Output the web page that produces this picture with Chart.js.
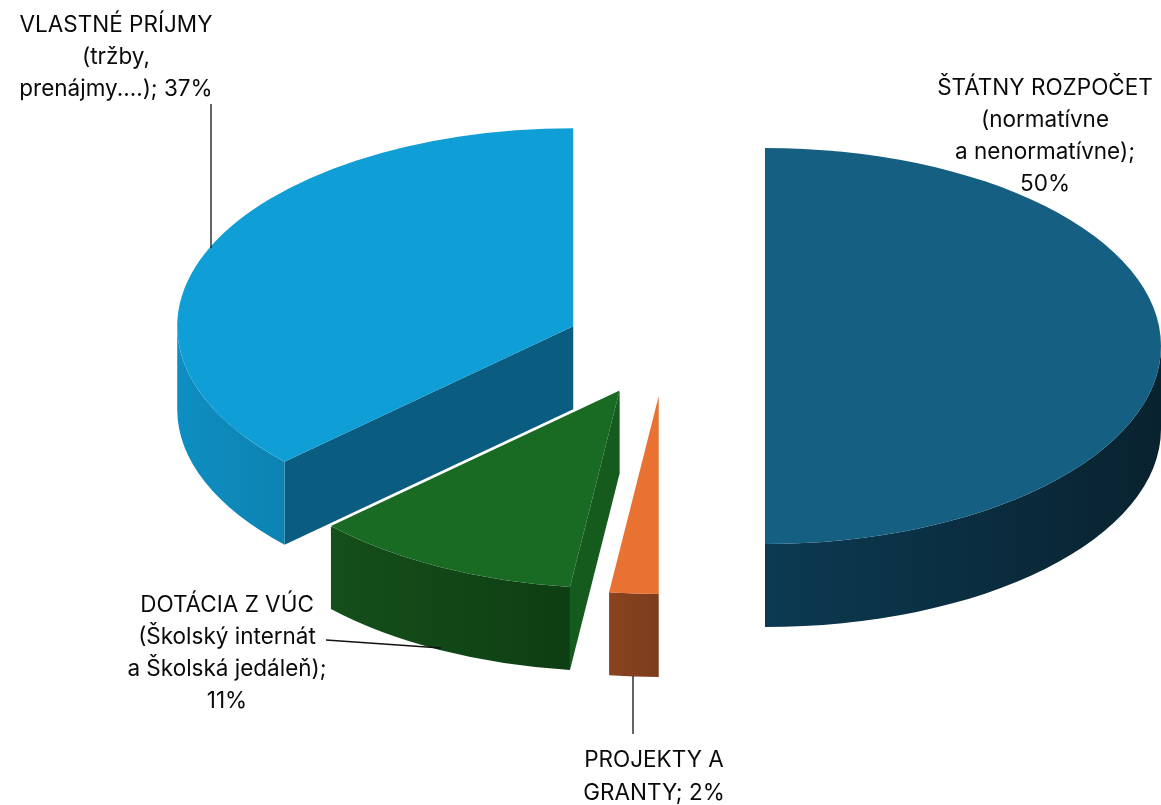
<!DOCTYPE html>
<html>
<head>
<meta charset="utf-8">
<style>html,body{margin:0;padding:0;background:#fff}canvas{display:block}</style>
<script src="https://cdn.jsdelivr.net/npm/chart.js@4"></script>
</head>
<body>
<canvas id="c" width="1161" height="805"></canvas>
<script>
const categories = ['ŠTÁTNY ROZPOČET (normatívne a nenormatívne)', 'PROJEKTY A GRANTY', 'DOTÁCIA Z VÚC (Školský internát a Školská jedáleň)', 'VLASTNÉ PRÍJMY (tržby, prenájmy....)'];
const shares = [50, 2, 11, 37];
const topColors = ['#156082', '#E97132', '#196B24', '#0F9ED5'];
const wallLeft = ['#0C3A52', '#8A431F', '#154F1A', '#0E8EC1'];
const wallRight = ['#09222F', '#7C3D1C', '#0E3E13', '#0C83B2'];
const cutColors = ['#0B3A50', '#8A431F', '#155B1E', '#0A5C80'];
const labelLines = [
  ['ŠTÁTNY ROZPOČET', '(normatívne', 'a nenormatívne);', '50%'],
  ['PROJEKTY A', 'GRANTY; 2%'],
  ['DOTÁCIA Z VÚC', '(Školský internát', 'a Školská jedáleň);', '11%'],
  ['VLASTNÉ PRÍJMY', '(tržby,', 'prenájmy....); 37%']
];

const SQUASH = 0.5, EXPLODE = 100, DEPTH = 83;
const FONT = '22.5px Inter';
const labelAnchors = [
  {x: 1045, ys: [88, 120, 152, 184]},
  {x: 654, ys: [760, 793]},
  {x: 227, ys: [605, 637, 669, 701]},
  {x: 116, ys: [25, 57, 89]}
];
const leaders = [[211, 104, 211, 248], [326, 640, 441, 648], [633, 676, 633, 734]];

const pie3d = {
  id: 'pie3d',
  beforeDatasetDraw() { return false; },
  afterDatasetsDraw(chart) {
    const ctx = chart.ctx;
    const arcs = chart.getDatasetMeta(0).data;
    const order = [3, 0, 1, 2];
    order.forEach(i => {
      const a = arcs[i];
      const cx = a.x, cy = a.y, r = a.outerRadius;
      const mid = (a.startAngle + a.endAngle) / 2;
      const ox = cx + Math.cos(mid) * EXPLODE;
      const oy = cy + Math.sin(mid) * EXPLODE * SQUASH;
      const px = t => ox + Math.cos(t) * r;
      const py = t => oy + Math.sin(t) * r * SQUASH;

      // cut face at the start edge
      ctx.save();
      const s = a.startAngle;
      ctx.beginPath();
      ctx.moveTo(ox, oy);
      ctx.lineTo(px(s), py(s));
      ctx.lineTo(px(s), py(s) + DEPTH);
      ctx.lineTo(ox, oy + DEPTH);
      ctx.closePath();
      ctx.fillStyle = cutColors[i];
      ctx.fill();

      // rim wall: lower half of the ellipse only
      const lo = Math.max(a.startAngle, 0);
      const hi = Math.min(a.endAngle, Math.PI);
      if (hi > lo) {
        const xs = [px(lo), px(hi)];
        const g = ctx.createLinearGradient(Math.min(...xs), 0, Math.max(...xs), 0);
        g.addColorStop(0, wallLeft[i]);
        g.addColorStop(1, wallRight[i]);
        ctx.beginPath();
        ctx.ellipse(ox, oy, r, r * SQUASH, 0, lo, hi);
        ctx.lineTo(px(hi), py(hi) + DEPTH);
        ctx.ellipse(ox, oy + DEPTH, r, r * SQUASH, 0, hi, lo, true);
        ctx.closePath();
        ctx.fillStyle = g;
        ctx.fill();
      }

      // white hairline where the green slice overlaps the blue one
      if (i === 2) {
        ctx.beginPath();
        ctx.moveTo(ox, oy);
        ctx.lineTo(px(a.endAngle), py(a.endAngle));
        ctx.strokeStyle = '#fff';
        ctx.lineWidth = 2.5;
        ctx.stroke();
      }

      // top face: the library's own arc element, squashed into perspective
      ctx.translate(ox, oy);
      ctx.scale(1, SQUASH);
      ctx.translate(-cx, -cy);
      a.draw(ctx);
      ctx.restore();
    });

    // leader lines
    ctx.save();
    ctx.strokeStyle = '#111';
    ctx.lineWidth = 1.3;
    leaders.forEach(l => {
      ctx.beginPath();
      ctx.moveTo(l[0], l[1]);
      ctx.lineTo(l[2], l[3]);
      ctx.stroke();
    });
    // labels
    ctx.font = FONT;
    ctx.fillStyle = '#0a0a0a';
    ctx.textAlign = 'center';
    ctx.textBaseline = 'middle';
    labelLines.forEach((lines, i) => {
      lines.forEach((t, k) => ctx.fillText(t, labelAnchors[i].x, labelAnchors[i].ys[k]));
    });
    ctx.restore();
  }
};

new Chart(document.getElementById('c'), {
  type: 'pie',
  data: {
    labels: categories,
    datasets: [{data: shares, backgroundColor: topColors, borderWidth: 0, radius: 396}]
  },
  options: {
    responsive: false,
    animation: false,
    layout: {padding: {left: 169, bottom: 113}},
    plugins: {legend: {display: false}, tooltip: {enabled: false}}
  },
  plugins: [pie3d]
});
</script>
</body>
</html>
